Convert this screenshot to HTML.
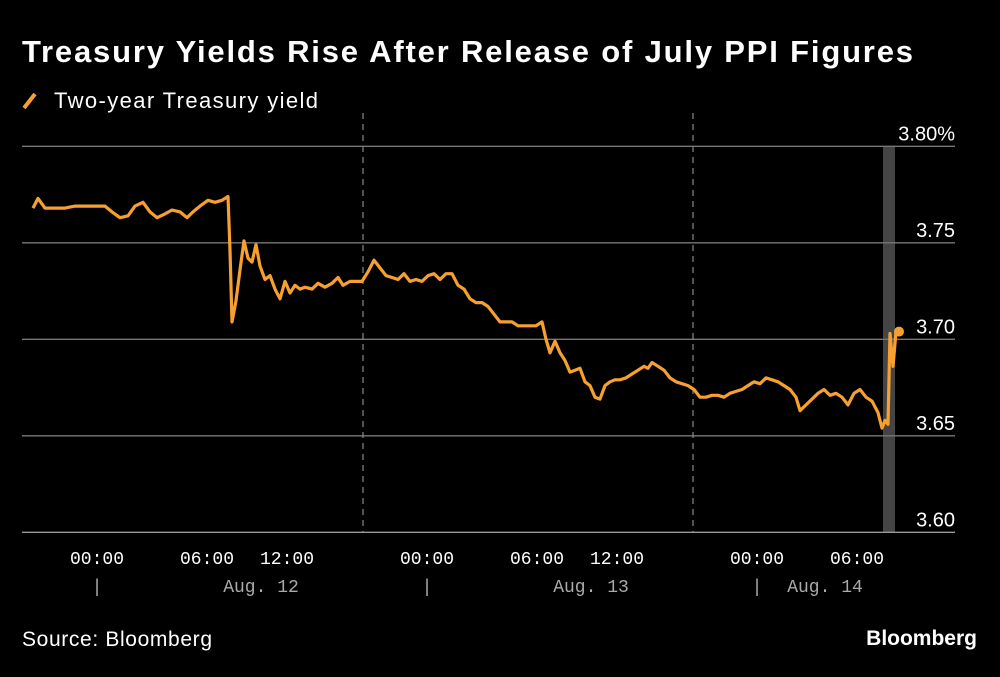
<!DOCTYPE html>
<html><head><meta charset="utf-8"><style>
body{margin:0;background:#000;width:1000px;height:672px;overflow:hidden;font-family:"Liberation Sans",sans-serif;color:#fff}
</style></head><body>
<svg id="chart" width="1000" height="672" xmlns="http://www.w3.org/2000/svg">
<text x="22" y="62" font-size="31" font-weight="bold" fill="#fff" textLength="891" lengthAdjust="spacing">Treasury Yields Rise After Release of July PPI Figures</text>
<line x1="24" y1="108" x2="35" y2="94" stroke="#f7a030" stroke-width="4"/>
<text x="54" y="108" font-size="22" fill="#fff" textLength="264" lengthAdjust="spacing">Two-year Treasury yield</text>
<g id="grid"></g><g id="series"></g>
<text x="22" y="646" font-size="21" fill="#fff" textLength="190" lengthAdjust="spacing">Source: Bloomberg</text>
<text x="977" y="645" font-size="21" font-weight="bold" fill="#fff" text-anchor="end">Bloomberg</text>
</svg>
<script>
const times=[0,5,12,22,32,42,52,62,72,79,87,95,102,110,117,124,132,139,147,154,160,167,175,182,189,195,197,199,203,207,211,215,219,223,227,232,237,242,247,252,257,262,267,272,279,285,292,299,305,310,317,323,329,335,341,347,353,359,365,371,377,383,389,395,401,407,413,419,425,431,437,443,449,455,461,467,473,479,485,491,497,503,509,513,517,522,527,532,537,542,547,552,557,562,567,572,577,582,587,593,599,605,611,615,619,625,631,637,643,649,655,661,667,673,679,685,691,697,703,709,715,721,727,733,739,745,751,757,763,767,773,779,785,791,797,803,809,815,821,827,833,839,845,849,852,855,857,860,863,866];
const yields=[3.768,3.773,3.768,3.768,3.768,3.769,3.769,3.769,3.769,3.766,3.763,3.764,3.769,3.771,3.766,3.763,3.765,3.767,3.766,3.763,3.766,3.769,3.772,3.771,3.772,3.774,3.746,3.709,3.720,3.736,3.751,3.742,3.740,3.749,3.738,3.731,3.733,3.726,3.721,3.730,3.724,3.728,3.726,3.727,3.726,3.729,3.727,3.729,3.732,3.728,3.730,3.730,3.730,3.735,3.741,3.737,3.733,3.732,3.731,3.734,3.730,3.731,3.730,3.733,3.734,3.731,3.734,3.734,3.728,3.726,3.721,3.719,3.719,3.717,3.713,3.709,3.709,3.709,3.707,3.707,3.707,3.707,3.709,3.700,3.693,3.699,3.693,3.689,3.683,3.684,3.685,3.678,3.676,3.670,3.669,3.676,3.678,3.679,3.679,3.680,3.682,3.684,3.686,3.685,3.688,3.686,3.684,3.680,3.678,3.677,3.676,3.674,3.670,3.670,3.671,3.671,3.670,3.672,3.673,3.674,3.676,3.678,3.677,3.680,3.679,3.678,3.676,3.674,3.670,3.663,3.666,3.669,3.672,3.674,3.671,3.672,3.670,3.666,3.672,3.674,3.670,3.668,3.662,3.654,3.658,3.656,3.703,3.686,3.704,3.704];
const yTicks=[3.60,3.65,3.70,3.75,3.80];
const yTickLabels=["3.60","3.65","3.70","3.75","3.80%"];
const xTickTimes=[64,174,254,394,504,584,724,824];
const xTickLabels=["00:00","06:00","12:00","00:00","06:00","12:00","00:00","06:00"];
const dayTimes=[64,394,724];
const dayLabelTimes=[228,558,792];
const dayLabels=["Aug. 12","Aug. 13","Aug. 14"];
const separatorTimes=[330,660];
const shadeStart=850, shadeEnd=862;

const X=t=>33+t;
const Y=v=>339.3-(v-3.70)*1930;
const NS="http://www.w3.org/2000/svg";
function mk(tag,attrs,parent,text){const e=document.createElementNS(NS,tag);for(const k in attrs)e.setAttribute(k,attrs[k]);if(text!==undefined)e.textContent=text;parent.appendChild(e);return e;}
const grid=document.getElementById('grid'), ser=document.getElementById('series');

const sh=mk('rect',{x:X(shadeStart),y:Y(3.80),width:X(shadeEnd)-X(shadeStart),height:Y(3.60)-Y(3.80),fill:'#444'},grid);


yTicks.forEach((v,i)=>{
  const l=mk('line',{x1:22,x2:955,y1:Y(v),y2:Y(v),stroke:i===0?'#999':'#777','stroke-width':1.3},grid);
  
  
  const t=mk('text',{x:955,y:Y(v)-6,'font-size':20,fill:'#fff','text-anchor':'end'},grid,yTickLabels[i]);
  
  
});
separatorTimes.forEach(s=>{
  const l=mk('line',{x1:X(s),x2:X(s),y1:113,y2:Y(3.60),stroke:'#888','stroke-width':1.2,'stroke-dasharray':'6,5'},grid);
  
  
});
xTickTimes.forEach((t,i)=>{
  const e=mk('text',{x:X(t),y:564,'font-size':18,fill:'#fff','text-anchor':'middle','font-family':'Liberation Mono, monospace'},grid,xTickLabels[i]);
  
  
});
dayTimes.forEach((t,i)=>{
  const b=mk('text',{x:X(t),y:592,'font-size':18,fill:'#aaa','text-anchor':'middle','font-family':'Liberation Mono, monospace'},grid,'|');
  
  
  const d=mk('text',{x:X(dayLabelTimes[i]),y:592,'font-size':18,fill:'#aaa','text-anchor':'middle','font-family':'Liberation Mono, monospace'},grid,dayLabels[i]);
  
  
});
let dstr=times.map((t,i)=>(i?'L':'M')+X(t).toFixed(1)+' '+Y(yields[i]).toFixed(1)).join(' ');
const p=mk('path',{d:dstr,fill:'none',stroke:'#f7a030','stroke-width':3.2,'stroke-linejoin':'round'},ser);


const n=times.length-1;
const dot=mk('circle',{cx:X(times[n]),cy:Y(yields[n]),r:5,fill:'#f7a030'},ser);


</script>
</body></html>
